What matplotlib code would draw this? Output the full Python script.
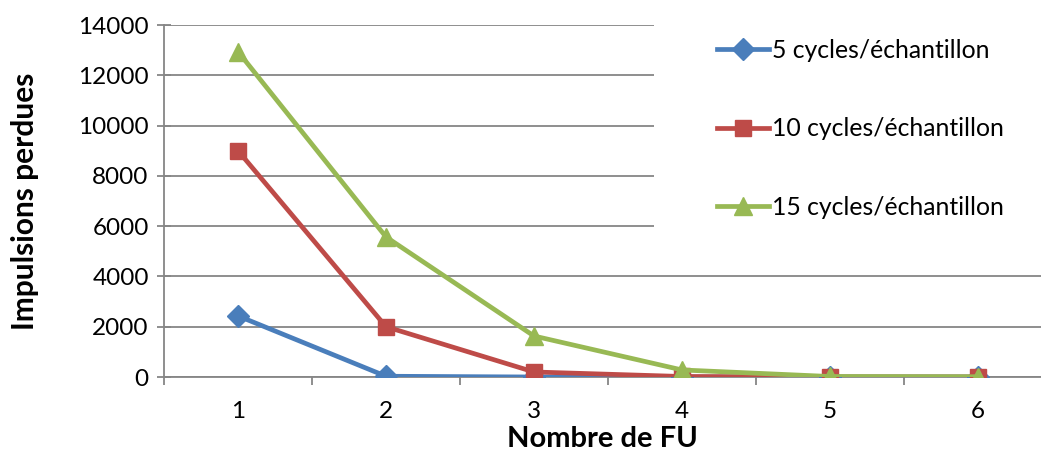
import numpy as np
import matplotlib.pyplot as plt
from matplotlib.patches import Rectangle
from matplotlib.ticker import MultipleLocator, FixedLocator

# --- Données ---
nb_fu = [1, 2, 3, 4, 5, 6]
cycles_5 = [2430, 30, 0, 0, 0, 0]
cycles_10 = [9000, 2000, 200, 20, 0, 0]
cycles_15 = [12940, 5570, 1630, 280, 20, 10]
labels = ['5 cycles/échantillon', '10 cycles/échantillon', '15 cycles/échantillon']

plt.rcParams['font.family'] = ['Lato', 'DejaVu Sans']

fig = plt.figure(figsize=(10.41, 4.57), dpi=100)
W, H = 1041, 457
ax = fig.add_axes([164 / W, 1 - 377 / H, (1041 - 164) / W, (377 - 25) / H])

ax.plot(nb_fu, cycles_5, color='#4A7EBB', lw=3.4, marker='D', ms=11, label=labels[0], zorder=3)
ax.plot(nb_fu, cycles_10, color='#BE4B48', lw=3.4, marker='s', ms=12, label=labels[1], zorder=3)
ax.plot(nb_fu, cycles_15, color='#98B954', lw=3.4, marker='^', ms=13, label=labels[2], zorder=3)

ax.set_xlim(0.5, 0.5 + (1041 - 164) / 148)
ax.set_ylim(0, 14000)
ax.yaxis.set_major_locator(MultipleLocator(2000))
ax.set_xticks(nb_fu)
ax.xaxis.set_minor_locator(FixedLocator(np.arange(0.5, 6.6, 1.0)))

ax.grid(axis='y', color='#868686', lw=1.3)
ax.set_axisbelow(True)
for s in ['top', 'right']:
    ax.spines[s].set_visible(False)
ax.spines['left'].set_color('#868686')
ax.spines['bottom'].set_color('#868686')
ax.spines['left'].set_linewidth(1.3)
ax.spines['bottom'].set_linewidth(1.3)

ax.tick_params(axis='y', direction='inout', length=10, width=1.3, color='#868686',
               labelsize=17.5, pad=6)
ax.tick_params(axis='x', which='major', length=0, labelsize=17.5, pad=17)
ax.tick_params(axis='x', which='minor', direction='out', length=6, width=1.3, color='#868686')

ax.set_xlabel('Nombre de FU', fontsize=21, fontweight='bold', labelpad=3)
ax.set_ylabel('Impulsions perdues', fontsize=21.5, fontweight='bold', labelpad=28)

# fond blanc de la légende (masque la grille)
ax.add_patch(Rectangle((654 / W, 1 - 245 / H), (W - 654) / W, 232 / H, transform=fig.transFigure,
                       facecolor='white', edgecolor='none', clip_on=False, zorder=2))

leg = ax.legend(loc='upper left', bbox_to_anchor=(692 / W, 1 - 14 / H), bbox_transform=fig.transFigure,
                frameon=False, fontsize=17.8, labelspacing=2.25, handlelength=2.1, handletextpad=0.15,
                borderpad=1.0, borderaxespad=0)
leg.set_zorder(5)

fig.savefig('out.png', dpi=100)
